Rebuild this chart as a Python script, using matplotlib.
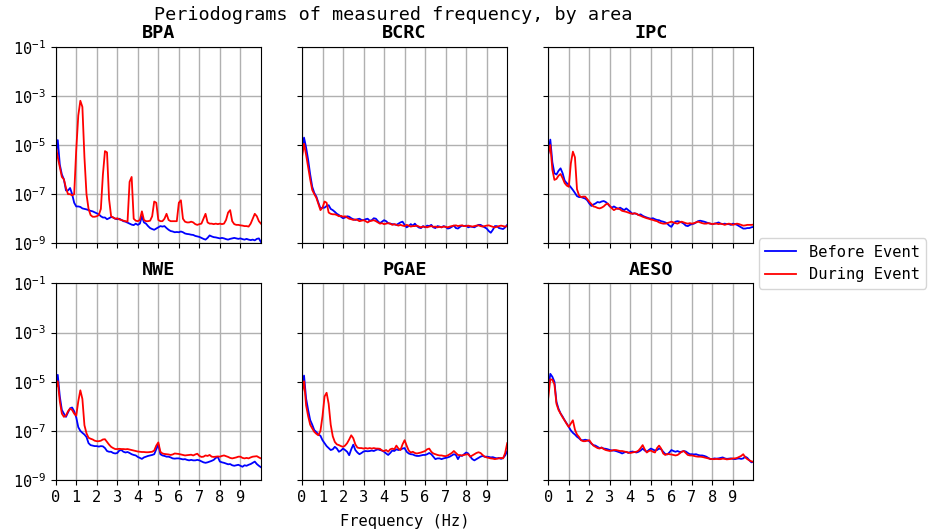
import numpy as np
import matplotlib
matplotlib.use("Agg")
import matplotlib.pyplot as plt

plt.rcParams['font.family'] = ['DejaVu Sans Mono', 'DejaVu Sans']
plt.rcParams['mathtext.fontset'] = 'dejavusans'
plt.rcParams['font.size'] = 11.1

# Frequency grid (Hz), 0.1 Hz resolution
freq = np.round(np.arange(0, 101) * 0.1, 1)

areas = ["BPA", "BCRC", "IPC", "NWE", "PGAE", "AESO"]
series_labels = ["Before Event", "During Event"]

# log10 of periodogram values
bpa_before = [
    -5.4, -4.8, -5.8, -6.2, -6.4, -6.85, -6.85, -6.75, -7.0, -7.35,
    -7.5, -7.5, -7.52, -7.58, -7.6, -7.62, -7.65, -7.68, -7.7, -7.74,
    -7.78, -7.82, -7.9, -7.95, -7.95, -8.02, -7.98, -7.93, -7.95, -8.0,
    -8.02, -8.0, -8.05, -8.1, -8.12, -8.16, -8.2, -8.24, -8.26, -8.2,
    -8.25, -8.2, -7.9, -8.15, -8.2, -8.3, -8.38, -8.42, -8.45, -8.4,
    -8.35, -8.3, -8.32, -8.3, -8.38, -8.45, -8.5, -8.52, -8.55, -8.54,
    -8.55, -8.52, -8.55, -8.6, -8.62, -8.63, -8.65, -8.66, -8.7, -8.72,
    -8.74, -8.78, -8.82, -8.85, -8.78, -8.68, -8.72, -8.75, -8.76, -8.78,
    -8.8, -8.78, -8.8, -8.83, -8.85, -8.82, -8.8, -8.78, -8.8, -8.82,
    -8.8, -8.83, -8.85, -8.82, -8.85, -8.87, -8.85, -8.88, -8.82, -8.8,
    -8.95]
bpa_during = [
    -5.0, -5.5, -5.9, -6.3, -6.4, -6.75, -7.0, -7.0, -7.05, -7.0,
    -5.2, -3.8, -3.2, -3.45, -5.5, -7.0, -7.6, -7.85, -7.92, -7.92,
    -7.9, -7.85, -7.6, -6.2, -5.25, -5.3, -7.2, -7.9, -7.95, -8.0,
    -7.98, -8.03, -8.05, -8.08, -8.1, -8.12, -6.5, -6.3, -8.0, -8.08,
    -8.1, -8.05, -7.7, -8.05, -8.1, -8.1, -8.08, -7.9, -7.3, -7.35,
    -8.05, -8.1, -8.1, -8.0, -7.8, -8.05, -8.1, -8.1, -8.1, -8.1,
    -7.35, -7.25, -8.0, -8.12, -8.15, -8.15, -8.12, -8.15, -8.22, -8.25,
    -8.22, -8.2, -8.0, -7.8, -8.15, -8.2, -8.2, -8.22, -8.2, -8.22,
    -8.2, -8.22, -8.2, -8.05, -7.75, -7.65, -8.1, -8.22, -8.25, -8.25,
    -8.27, -8.28, -8.3, -8.3, -8.32, -8.2, -8.0, -7.8, -7.9, -8.1,
    -8.2]

bcrc_before = [
    -5.35, -4.7, -5.1, -5.6, -6.2, -6.7, -6.95, -7.1, -7.35, -7.58,
    -7.55, -7.55, -7.48, -7.45, -7.6, -7.65, -7.72, -7.8, -7.85, -7.92,
    -7.98, -7.95, -7.9, -7.92, -7.98, -8.02, -8.05, -8.02, -8.0, -8.05,
    -8.06, -8.02, -8.0, -8.08, -8.06, -7.98, -8.0, -8.1, -8.18, -8.12,
    -8.06, -8.1, -8.18, -8.2, -8.22, -8.23, -8.25, -8.2, -8.15, -8.12,
    -8.25, -8.35, -8.3, -8.22, -8.28, -8.2, -8.3, -8.36, -8.38, -8.3,
    -8.35, -8.28, -8.3, -8.25, -8.35, -8.38, -8.3, -8.32, -8.35, -8.3,
    -8.33, -8.4, -8.38, -8.33, -8.28, -8.38, -8.4, -8.33, -8.28, -8.3,
    -8.28, -8.35, -8.32, -8.33, -8.35, -8.3, -8.25, -8.25, -8.3, -8.35,
    -8.4, -8.5, -8.57, -8.45, -8.3, -8.3, -8.38, -8.4, -8.42, -8.35,
    -8.25]
bcrc_during = [
    -5.5, -4.95, -5.4, -5.9, -6.4, -6.83, -7.0, -7.15, -7.4, -7.65,
    -7.55, -7.3, -7.35, -7.75, -7.8, -7.82, -7.82, -7.85, -7.9, -7.88,
    -7.92, -7.9, -7.95, -8.0, -8.02, -8.05, -8.03, -8.05, -8.1, -8.08,
    -8.06, -8.1, -8.15, -8.1, -8.08, -8.06, -8.1, -8.15, -8.2, -8.18,
    -8.22, -8.2, -8.18, -8.2, -8.25, -8.22, -8.25, -8.28, -8.25, -8.28,
    -8.3, -8.25, -8.28, -8.32, -8.3, -8.3, -8.28, -8.32, -8.35, -8.32,
    -8.33, -8.35, -8.32, -8.3, -8.33, -8.32, -8.35, -8.33, -8.35, -8.32,
    -8.33, -8.35, -8.32, -8.3, -8.28, -8.27, -8.3, -8.28, -8.27, -8.3,
    -8.3, -8.28, -8.3, -8.32, -8.3, -8.28, -8.27, -8.3, -8.32, -8.3,
    -8.28, -8.27, -8.3, -8.33, -8.35, -8.33, -8.3, -8.28, -8.3, -8.32,
    -8.3]

ipc_before = [
    -5.35, -4.78, -5.7, -6.15, -6.2, -6.05, -5.95, -6.15, -6.45, -6.55,
    -6.62, -6.72, -6.83, -6.95, -7.08, -7.12, -7.12, -7.15, -7.18, -7.25,
    -7.38, -7.48, -7.42, -7.38, -7.32, -7.34, -7.3, -7.28, -7.32, -7.4,
    -7.5, -7.55, -7.5, -7.55, -7.6, -7.55, -7.6, -7.65, -7.58, -7.65,
    -7.72, -7.8, -7.78, -7.8, -7.85, -7.82, -7.88, -7.92, -7.95, -7.98,
    -8.0, -7.98, -8.02, -8.05, -8.06, -8.1, -8.12, -8.15, -8.2, -8.28,
    -8.33, -8.2, -8.12, -8.1, -8.12, -8.15, -8.2, -8.28, -8.3, -8.25,
    -8.22, -8.2, -8.15, -8.1, -8.08, -8.1, -8.12, -8.15, -8.18, -8.2,
    -8.22, -8.2, -8.18, -8.15, -8.2, -8.22, -8.2, -8.22, -8.22, -8.25,
    -8.2, -8.22, -8.25, -8.3, -8.35, -8.4, -8.4, -8.38, -8.38, -8.35,
    -8.33]
ipc_during = [
    -5.35, -5.0, -6.0, -6.42, -6.38, -6.25, -6.18, -6.35, -6.55, -6.65,
    -6.7, -5.75, -5.27, -5.5, -6.8, -7.05, -7.12, -7.1, -7.1, -7.2,
    -7.31, -7.4, -7.5, -7.52, -7.56, -7.58, -7.55, -7.5, -7.42, -7.38,
    -7.48, -7.58, -7.65, -7.6, -7.58, -7.62, -7.68, -7.7, -7.72, -7.75,
    -7.78, -7.8, -7.78, -7.8, -7.85, -7.88, -7.92, -7.95, -7.98, -8.0,
    -8.03, -8.05, -8.08, -8.1, -8.15, -8.18, -8.2, -8.2, -8.18, -8.15,
    -8.12, -8.15, -8.18, -8.2, -8.15, -8.12, -8.15, -8.18, -8.2, -8.18,
    -8.2, -8.18, -8.15, -8.12, -8.15, -8.18, -8.2, -8.2, -8.18, -8.2,
    -8.22, -8.2, -8.2, -8.22, -8.2, -8.22, -8.25, -8.22, -8.2, -8.22,
    -8.25, -8.22, -8.2, -8.22, -8.25, -8.28, -8.27, -8.25, -8.25, -8.25,
    -8.24]

nwe_before = [
    -5.3, -4.72, -5.6, -6.15, -6.3, -6.43, -6.25, -6.08, -6.05, -6.2,
    -6.45, -6.85, -7.0, -7.08, -7.15, -7.25, -7.5, -7.58, -7.6, -7.62,
    -7.62, -7.64, -7.62, -7.63, -7.7, -7.82, -7.85, -7.85, -7.9, -7.92,
    -7.9, -7.8, -7.78, -7.85, -7.88, -7.86, -7.9, -7.95, -7.98, -8.0,
    -8.06, -8.1, -8.14, -8.08, -8.05, -8.02, -8.0, -7.98, -7.95, -7.75,
    -7.55, -7.95, -8.0, -8.02, -8.05, -8.05, -8.08, -8.12, -8.13, -8.12,
    -8.12, -8.14, -8.16, -8.15, -8.18, -8.2, -8.18, -8.2, -8.2, -8.18,
    -8.2, -8.24, -8.28, -8.3, -8.28, -8.25, -8.22, -8.18, -8.1, -8.06,
    -8.25, -8.28, -8.3, -8.33, -8.36, -8.35, -8.4, -8.42, -8.4, -8.38,
    -8.42, -8.46, -8.4, -8.42, -8.38, -8.35, -8.3, -8.25, -8.35, -8.42,
    -8.48]
nwe_during = [
    -5.3, -4.98, -5.8, -6.3, -6.43, -6.38, -6.2, -6.1, -6.15, -6.3,
    -6.38, -5.8, -5.35, -5.7, -6.77, -7.1, -7.28, -7.32, -7.35, -7.4,
    -7.42, -7.42, -7.4, -7.35, -7.34, -7.45, -7.56, -7.65, -7.7, -7.74,
    -7.74, -7.73, -7.74, -7.74, -7.75, -7.74, -7.76, -7.78, -7.8, -7.82,
    -7.84, -7.85, -7.86, -7.86, -7.87, -7.87, -7.86, -7.85, -7.8, -7.6,
    -7.47, -7.85, -7.92, -7.94, -7.95, -7.96, -7.98, -7.96, -7.92, -7.93,
    -7.94, -7.96, -7.98, -8.0, -7.99, -7.98, -7.97, -8.0, -7.96, -7.93,
    -8.02, -8.06, -8.05, -8.0, -8.02, -7.98, -8.05, -8.06, -8.05, -8.04,
    -8.05, -8.02, -8.0, -8.03, -8.06, -8.1, -8.12, -8.1, -8.08, -8.05,
    -8.05, -8.1, -8.12, -8.1, -8.12, -8.08, -8.05, -8.04, -8.03, -8.08,
    -8.12]

pgae_before = [
    -5.35, -4.75, -5.68, -6.15, -6.56, -6.75, -6.97, -7.05, -7.15, -7.2,
    -7.38, -7.5, -7.62, -7.7, -7.78, -7.75, -7.65, -7.72, -7.85, -7.8,
    -7.72, -7.78, -7.85, -7.99, -7.75, -7.56, -7.78, -7.88, -7.95, -7.9,
    -7.84, -7.82, -7.83, -7.82, -7.8, -7.82, -7.78, -7.75, -7.78, -7.8,
    -7.85, -7.92, -7.98, -7.9, -7.8, -7.82, -7.75, -7.78, -7.76, -7.72,
    -7.7, -7.85, -7.92, -7.95, -7.96, -8.0, -8.02, -8.02, -8.0, -7.98,
    -7.98, -7.95, -7.9, -7.95, -8.05, -8.15, -8.12, -8.12, -8.15, -8.12,
    -8.1, -8.08, -8.05, -8.0, -7.95, -7.98, -8.15, -8.0, -8.02, -7.95,
    -7.88, -7.92, -8.05, -8.15, -8.2, -8.15, -8.1, -8.05, -8.02, -8.05,
    -8.05, -8.06, -8.08, -8.07, -8.1, -8.12, -8.1, -8.14, -8.1, -8.0,
    -7.82]
pgae_during = [
    -5.45, -4.98, -5.96, -6.4, -6.75, -6.9, -7.04, -7.12, -7.18, -7.0,
    -6.4, -5.6, -5.45, -5.9, -6.75, -7.22, -7.45, -7.55, -7.58, -7.62,
    -7.65, -7.6, -7.5, -7.35, -7.18, -7.3, -7.55, -7.68, -7.7, -7.7,
    -7.72, -7.7, -7.72, -7.7, -7.72, -7.7, -7.72, -7.72, -7.73, -7.8,
    -7.82, -7.78, -7.85, -7.75, -7.72, -7.75, -7.6, -7.72, -7.78, -7.55,
    -7.38, -7.6, -7.8, -7.88, -7.85, -7.9, -7.92, -7.9, -7.88, -7.85,
    -7.82, -7.75, -7.72, -7.85, -7.92, -7.95, -7.98, -8.0, -8.0, -8.02,
    -8.03, -8.0, -7.95, -7.9, -7.82, -7.9, -7.98, -7.99, -8.0, -7.98,
    -7.96, -7.95, -8.05, -8.0, -7.95, -7.9, -7.87, -7.9, -7.98, -8.05,
    -8.08, -8.1, -8.12, -8.13, -8.15, -8.13, -8.12, -8.1, -8.12, -7.9,
    -7.5]

aeso_before = [
    -5.3, -4.68, -4.8, -5.0, -5.82, -6.1, -6.29, -6.42, -6.57, -6.7,
    -6.84, -6.98, -7.08, -7.15, -7.24, -7.3, -7.38, -7.38, -7.36, -7.38,
    -7.42, -7.52, -7.58, -7.6, -7.65, -7.7, -7.68, -7.72, -7.73, -7.75,
    -7.78, -7.8, -7.8, -7.82, -7.85, -7.88, -7.92, -7.88, -7.85, -7.9,
    -7.86, -7.84, -7.86, -7.88, -7.85, -7.8, -7.72, -7.8, -7.85, -7.78,
    -7.72, -7.76, -7.8, -7.78, -7.72, -7.75, -7.85, -7.94, -7.96, -7.88,
    -7.78, -7.82, -7.85, -7.82, -7.86, -7.85, -7.82, -7.84, -7.9, -7.95,
    -7.95, -7.96, -7.95, -7.98, -8.0, -8.0, -8.02, -8.05, -8.1, -8.15,
    -8.14, -8.12, -8.13, -8.12, -8.1, -8.08, -8.12, -8.14, -8.13, -8.12,
    -8.14, -8.15, -8.13, -8.12, -8.14, -8.12, -8.05, -8.1, -8.2, -8.28,
    -8.26]
aeso_during = [
    -5.65, -4.9, -4.92, -5.1, -5.9, -6.15, -6.3, -6.45, -6.58, -6.72,
    -6.84, -6.7, -6.57, -6.95, -7.15, -7.25, -7.38, -7.42, -7.42, -7.4,
    -7.38, -7.5, -7.6, -7.65, -7.7, -7.72, -7.68, -7.74, -7.78, -7.8,
    -7.82, -7.8, -7.78, -7.78, -7.8, -7.82, -7.82, -7.84, -7.86, -7.88,
    -7.9, -7.88, -7.86, -7.85, -7.8, -7.7, -7.58, -7.75, -7.88, -7.82,
    -7.8, -7.85, -7.88, -7.7, -7.6, -7.72, -7.92, -7.98, -7.94, -7.95,
    -7.96, -7.98, -8.0, -7.98, -7.92, -7.85, -7.82, -7.9, -7.98, -8.0,
    -8.0, -8.02, -8.04, -8.05, -8.05, -8.06, -8.08, -8.1, -8.12, -8.14,
    -8.15, -8.15, -8.14, -8.15, -8.15, -8.13, -8.14, -8.16, -8.15, -8.14,
    -8.12, -8.12, -8.1, -8.06, -8.02, -7.95, -8.08, -8.15, -8.2, -8.24,
    -8.26]

before_series = [bpa_before, bcrc_before, ipc_before, nwe_before, pgae_before, aeso_before]
during_series = [bpa_during, bcrc_during, ipc_during, nwe_during, pgae_during, aeso_during]

xticks = list(range(10))
yticks = [1e-9, 1e-7, 1e-5, 1e-3, 1e-1]

fig, axes = plt.subplots(2, 3, figsize=(9.3, 5.3), dpi=100, sharex=True, sharey=True,
                         gridspec_kw=dict(left=0.0599, right=0.8102, top=0.9119, bottom=0.0943,
                                          wspace=0.2, hspace=0.204))

for ax, name, b, d in zip(axes.flat, areas, before_series, during_series):
    lb, = ax.plot(freq, 10 ** np.array(b), color='#0000ff', lw=1.3, label=series_labels[0])
    ld, = ax.plot(freq, 10 ** np.array(d), color='#ff0000', lw=1.3, label=series_labels[1])
    ax.set_yscale('log')
    ax.set_xlim(0, 10)
    ax.set_ylim(1e-9, 1e-1)
    ax.set_xticks(xticks)
    ax.set_yticks(yticks)
    ax.yaxis.set_minor_locator(matplotlib.ticker.NullLocator())
    ax.grid(True, color='#b0b0b0', lw=1.0)
    ax.set_axisbelow(True)
    ax.set_title(name, fontweight='bold', fontsize=13.3)
    ax.tick_params(labelsize=11.1)
    for s in ax.spines.values():
        s.set_color('black')

axes[1, 1].set_xlabel("Frequency (Hz)", fontsize=11.1, labelpad=7)

fig.suptitle("Periodograms of measured frequency, by area", x=393 / 930, y=1 - 15 / 530,
             va='center', fontsize=13.3)

fig.legend([lb, ld], series_labels, loc='center left', borderaxespad=0,
           bbox_to_anchor=(759 / 930, 1 - 263.5 / 530), fontsize=11.1,
           frameon=True, fancybox=True, handlelength=2.0, handletextpad=0.85,
           borderpad=0.4)

fig.savefig("out.png", dpi=100)
